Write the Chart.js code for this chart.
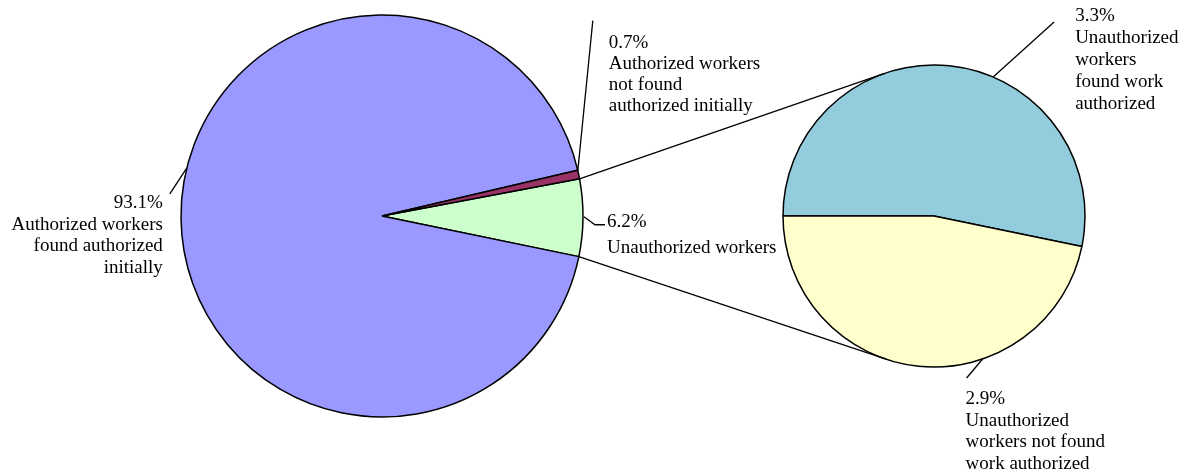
<!DOCTYPE html>
<html><head><meta charset="utf-8">
<script src="https://cdn.jsdelivr.net/npm/chart.js@4"></script>
<style>
html,body{margin:0;padding:0;background:#fff;}
#wrap{position:relative;width:1194px;height:474px;}
#wrap canvas{position:absolute;left:0;top:0;}
</style></head><body>
<div id="wrap"><canvas id="main" width="1194" height="474"></canvas><canvas id="sub" width="1194" height="474"></canvas></div>
<script>
// ---- data ----
const mainCategories = ['Unauthorized workers', 'Authorized workers found authorized initially', 'Authorized workers not found authorized initially'];
const mainValues = [6.2, 93.1, 0.7];
const mainLabelLines = [['Unauthorized workers'], ['Authorized workers', 'found authorized', 'initially'], ['Authorized workers', 'not found', 'authorized initially']];
const subCategories = ['Unauthorized workers found work authorized', 'Unauthorized workers not found work authorized'];
const subValues = [3.3, 2.9];
const subLabelLines = [['Unauthorized', 'workers', 'found work', 'authorized'], ['Unauthorized', 'workers not found', 'work authorized']];

// ---- styles / layout ----
const mainColors = ['#CCFFCC', '#9999FF', '#993366'];
const subColors = ['#93CDDD', '#FFFFCC'];
const FONT = '19px "Liberation Serif", "Times New Roman", serif';
// leader: t = fraction along arc angle span; path = offsets from anchor; text offset from anchor
const mainLabelLayout = [
  {t: 0.5, path: [[1, -1], [12, 7], [22, 7]], tx: 24, ty: 4, lh: 26, align: 'left'},
  {t: 0.5436, path: [[0, 0], [-17, 26]], tx: -24, ty: 35, lh: 21.7, align: 'right'},
  {t: 0.05, path: [[0, 0], [15, -150]], tx: 31, ty: -128, lh: 21, align: 'left'}
];
const subLabelLayout = [
  {t: 0.59, path: [[0, 0], [61, -55]], tx: 82, ty: -61, lh: 22, align: 'left'},
  {t: 0.354, path: [[0, 0], [-16, 19]], tx: -17, ty: 40, lh: 21.7, align: 'left'}
];

const sum = a => a.reduce((s, v) => s + v, 0);
const mainTotal = sum(mainValues);

const mainChart = new Chart(document.getElementById('main'), {
  type: 'pie',
  data: {labels: mainCategories, datasets: [{data: mainValues, backgroundColor: mainColors, borderColor: '#000', borderWidth: 1.5}]},
  options: {
    responsive: false, animation: false, events: [],
    rotation: 90 - mainValues[0] / mainTotal * 180 + 0.5,
    radius: 201,
    layout: {padding: {left: 0, right: 430, top: 0, bottom: 42}},
    plugins: {legend: {display: false}, tooltip: {enabled: false}}
  }
});

function arcPoint(arc, t, extra) {
  const a = arc.startAngle + (arc.endAngle - arc.startAngle) * t;
  const r = arc.outerRadius + (extra || 0);
  return [arc.x + r * Math.cos(a), arc.y + r * Math.sin(a)];
}

function drawLabels(ctx, meta, values, total, lines, layout) {
  ctx.save();
  ctx.strokeStyle = '#000'; ctx.lineWidth = 1.3; ctx.fillStyle = '#000';
  ctx.font = FONT; ctx.textBaseline = 'middle';
  meta.data.forEach((arc, i) => {
    const L = layout[i];
    const [ax, ay] = arcPoint(arc, L.t);
    ctx.beginPath();
    L.path.forEach(([dx, dy], k) => { if (k === 0) ctx.moveTo(ax + dx, ay + dy); else ctx.lineTo(ax + dx, ay + dy); });
    ctx.stroke();
    ctx.textAlign = L.align;
    const txt = [(values[i] / total * 100).toFixed(1) + '%'].concat(lines[i]);
    txt.forEach((s, k) => ctx.fillText(s, ax + L.tx, ay + L.ty + k * L.lh));
  });
  ctx.restore();
}

const overlayPlugin = {
  id: 'overlay',
  afterDraw(chart) {
    const ctx = chart.ctx;
    const mMeta = mainChart.getDatasetMeta(0);
    const sMeta = chart.getDatasetMeta(0);
    const g = mMeta.data[0];
    const s0 = sMeta.data[0];
    const cx = s0.x, cy = s0.y, r = s0.outerRadius;
    const pts = [[g.x + g.outerRadius * Math.cos(g.startAngle), g.y + g.outerRadius * Math.sin(g.startAngle), 1],
                 [g.x + g.outerRadius * Math.cos(g.endAngle), g.y + g.outerRadius * Math.sin(g.endAngle), -1]];
    ctx.save();
    ctx.strokeStyle = '#000'; ctx.lineWidth = 1.3;
    pts.forEach(([px, py, sgn]) => {
      const th = Math.atan2(py - cy, px - cx);
      const d = Math.hypot(px - cx, py - cy);
      const al = Math.acos(r / d);
      const ta = th + sgn * al;
      ctx.beginPath();
      ctx.moveTo(px, py);
      ctx.lineTo(cx + r * Math.cos(ta), cy + r * Math.sin(ta));
      ctx.stroke();
    });
    ctx.restore();
    drawLabels(ctx, mMeta, mainValues, mainTotal, mainLabelLines, mainLabelLayout);
    drawLabels(ctx, sMeta, subValues, mainTotal, subLabelLines, subLabelLayout);
  }
};

const subChart = new Chart(document.getElementById('sub'), {
  type: 'pie',
  data: {labels: subCategories, datasets: [{data: subValues, backgroundColor: subColors, borderColor: '#000', borderWidth: 1.5}]},
  options: {
    responsive: false, animation: false, events: [],
    rotation: 270,
    radius: 151,
    layout: {padding: {left: 674, right: 0, top: 0, bottom: 42}},
    plugins: {legend: {display: false}, tooltip: {enabled: false}}
  },
  plugins: [overlayPlugin]
});
</script>
</body></html>
